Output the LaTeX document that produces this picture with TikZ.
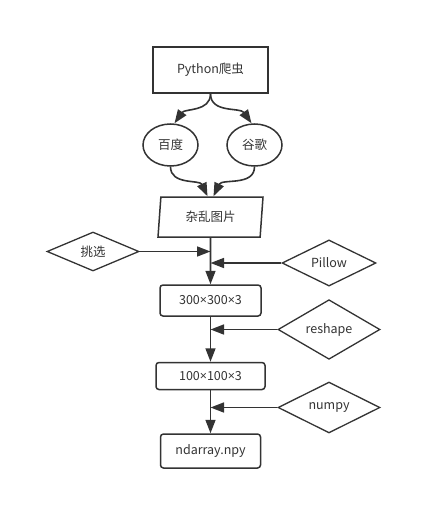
\documentclass[tikz,border=0pt]{standalone}
\usepackage{fontspec}
\setmainfont{Noto Sans CJK SC}
\newfontfamily\latinfont{Open Sans}
\newcommand{\by}{{\latinfont ×}}
\usetikzlibrary{arrows.meta,positioning,shapes.geometric}
\definecolor{ink}{HTML}{333333}

\begin{document}
\begin{tikzpicture}[x=1pt,y=1pt]
	\tikzstyle{every node} = [text=ink,font=\fontsize{12.5}{15}\selectfont,inner sep=0];
	\tikzstyle{box} = [draw=ink,line width=1.5pt,rectangle];
	\tikzstyle{rbox} = [box,rounded corners=3pt];
	\tikzstyle{site} = [draw=ink,line width=1.5pt,ellipse,minimum width=55,minimum height=42];
	\tikzstyle{data} = [draw=ink,line width=1.5pt,trapezium,trapezium left angle=76,trapezium right angle=104,trapezium stretches body,minimum width=105,minimum height=40];
	\tikzstyle{tool} = [draw=ink,line width=1.3pt,diamond];
	\tikzstyle{wire} = [draw=ink,line width=1.6pt,-{Triangle[length=13.5pt,width=10pt]}];
	\useasboundingbox (0,0) rectangle (442,-527);
	\node at (210.5,-70) (py) [box,minimum width=115,minimum height=46] {Python爬虫};
	\node at (170.5,-145) (baidu) [site] {百度};
	\node at (254.5,-145) (google) [site] {谷歌};
	\node at (210.5,-217) (pics) [data] {杂乱图片};
	\node at (93,-251.5) (pick) [tool,minimum width=92,minimum height=39] {挑选};
	\node at (329,-263) (pillow) [tool,minimum width=94,minimum height=44] {Pillow};
	\node at (210.5,-300.5) (big) [rbox,minimum width=101,minimum height=31] {300\by300\by3};
	\node (reshape) at (329,-329.5) [tool,minimum width=102,minimum height=49] {reshape};
	\node (small) [below=45 of big,rbox,minimum width=109,minimum height=27] {100\by100\by3};
	\node (numpy) at (329,-407.5) [tool,minimum width=102,minimum height=47] {numpy};
	\node (npy) [below=43 of small,rbox,minimum width=100,minimum height=34] {ndarray.npy};
	% crawler to the two search engines and back
	\draw [wire] (py.south) to [out=-90,in=55] ([xshift=4]baidu.north);
	\draw [wire] (py.south) to [out=-90,in=125] ([xshift=-3]google.north);
	\draw [wire] (baidu.south) to [out=-90,in=115] ([xshift=-3]pics.north);
	\draw [wire] (google.south) to [out=-90,in=65] ([xshift=3]pics.north);
	% main chain
	\coordinate (pickend) at (pics.south |- pick.east);
	\coordinate (pillowend) at (pics.south |- pillow.west);
	\coordinate (reshapeend) at (big.south |- reshape.west);
	\coordinate (numpyend) at (big.south |- numpy.west);
	\draw [wire] (pics.south) -- (big.north);
	\draw [wire] (big.south) -- (big.south |- small.north);
	\draw [wire] (big.south |- small.south) -- (big.south |- npy.north);
	\draw [wire] (pick.east) -- (pickend);
	\draw [wire] (pillow.west) -- (pillowend);
	\draw [wire] (reshape.west) -- (reshapeend);
	\draw [wire] (numpy.west) -- (numpyend);
\end{tikzpicture}
\end{document}
